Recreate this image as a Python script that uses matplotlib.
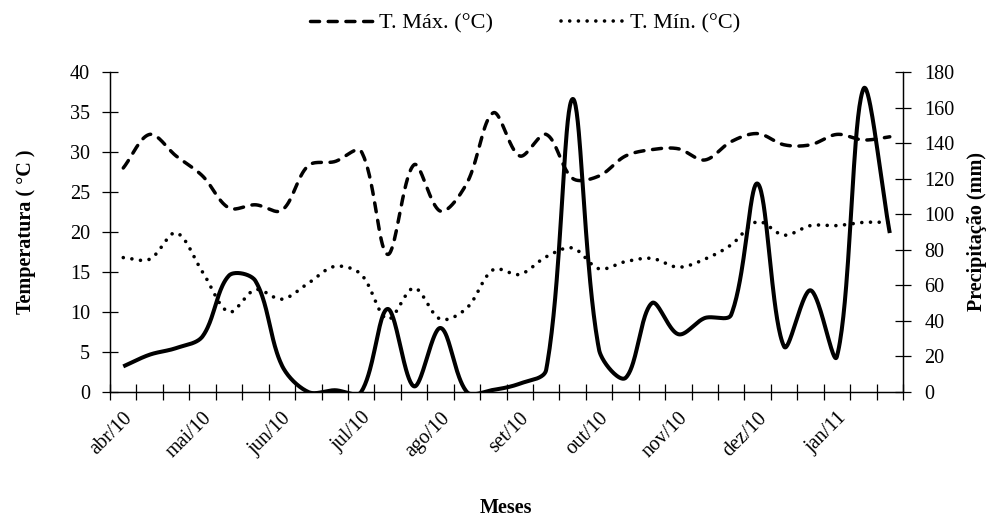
import matplotlib
matplotlib.use("Agg")
import matplotlib.pyplot as plt
import numpy as np

plt.rcParams['font.family'] = ['Liberation Serif', 'DejaVu Serif']

# decendial values, abr/10 .. jan/11 (3 per month)
t_max = [28.0, 32.2, 29.5, 27.0, 23.0, 23.4, 22.7, 28.3, 28.8, 30.1,
         17.2, 28.4, 22.6, 26.1, 34.9, 29.5, 32.2, 26.7, 27.0, 29.5,
         30.3, 30.4, 29.0, 31.3, 32.3, 30.9, 30.9, 32.2, 31.5, 31.9]
t_min = [16.8, 16.6, 19.9, 15.0, 10.0, 12.8, 11.6, 13.6, 15.7, 14.7,
         9.1, 13.0, 9.1, 10.5, 15.3, 14.7, 16.9, 18.0, 15.4, 16.3,
         16.7, 15.6, 16.6, 18.4, 21.3, 19.6, 20.8, 20.8, 21.2, 21.2]
precip = [14.4, 21.0, 24.7, 31.3, 65.5, 62.5, 15.0, 0.0, 1.0, 0.0,
          46.7, 3.2, 36.0, 0.0, 1.2, 4.7, 12.5, 164.8, 23.8, 7.9,
          50.0, 32.5, 41.6, 43.5, 117.2, 25.6, 57.2, 20.0, 170.4, 89.4]
month_labels = ['abr/10', 'mai/10', 'jun/10', 'jul/10', 'ago/10',
                'set/10', 'out/10', 'nov/10', 'dez/10', 'jan/11']


def smooth(y, px_y, px_x=26.4, n=40):
    # excel-like smoothed line: bezier, control points scaled by
    # neighbouring segment lengths (in screen units)
    P = np.column_stack([np.arange(len(y)) * px_x, np.asarray(y, float) * px_y])
    out = [P[:1]]
    t = np.linspace(0, 1, n)[1:, None]
    for i in range(len(P) - 1):
        a = P[i - 1] if i > 0 else P[i]
        b, c = P[i], P[i + 1]
        d = P[i + 2] if i + 2 < len(P) else P[i + 1]
        l_ab, l_bc, l_cd = [np.hypot(*v) + 1e-9 for v in (b - a, c - b, d - c)]
        c1 = b + (c - a) * l_bc / (l_ab + l_bc) / 3
        c2 = c - (d - b) * l_bc / (l_bc + l_cd) / 3
        seg = (1 - t)**3 * b + 3 * (1 - t)**2 * t * c1 + 3 * (1 - t) * t**2 * c2 + t**3 * c
        out.append(seg)
    P = np.vstack(out)
    return P[:, 0] / px_x, P[:, 1] / px_y


fig = plt.figure(figsize=(9.87, 5.19), dpi=100)
ax = fig.add_axes([0.1115, 0.2447, 0.8034, 0.6166])
ax2 = ax.twinx()

xs, ys = smooth(t_max, 8.0)
ax.plot(xs, ys, color='black', lw=2.5, linestyle=(0, (2.6, 2.5)),
        dash_capstyle='round', label='T. Máx. (°C)')
xs, ys = smooth(t_min, 8.0)
ax.plot(xs, ys, color='black', lw=2.6, linestyle=(0, (0.01, 2.4)),
        dash_capstyle='round', label='T. Mín. (°C)')
xs, ys = smooth(precip, 320 / 180)
ax2.plot(xs, ys, color='black', lw=2.9, solid_capstyle='butt')

n = len(t_max)
ax.set_xlim(-0.5, n - 0.5)
ax.set_ylim(0, 40)
ax2.set_ylim(0, 180)
ax.set_yticks(range(0, 41, 5))
ax2.set_yticks(range(0, 181, 20))
ax.set_xticks(np.arange(-0.5, n, 1.0))
ax.set_xticklabels([])
ax.set_xticks(np.arange(0, n, 3), minor=True)
ax.set_xticklabels(month_labels, minor=True, rotation=45, ha='right',
                   rotation_mode='anchor', fontsize=14.5)
ax.tick_params(axis='x', which='minor', length=0, pad=12)

for a in (ax, ax2):
    a.spines['top'].set_visible(False)
    for s in a.spines.values():
        s.set_linewidth(0.9)
ax.tick_params(axis='x', which='major', direction='inout', length=11, width=0.9)
ax.tick_params(axis='y', direction='inout', length=11, width=0.9, labelsize=14.5, pad=9)
ax2.tick_params(axis='y', direction='inout', length=11, width=0.9, labelsize=14.5, pad=10)

ax.set_ylabel('Temperatura ( °C )', fontsize=14.5, fontweight='bold', labelpad=24)
ax2.set_ylabel('Precipitação (mm)', fontsize=14.5, fontweight='bold', labelpad=9)
fig.text(0.513, 1 - 508 / 519, 'Meses', fontsize=14.5, fontweight='bold',
         ha='center', va='center')

fig.legend(loc='upper center', bbox_to_anchor=(0.532, 1.013), ncol=2, frameon=False,
           fontsize=16, handlelength=3.0, columnspacing=3.1, handletextpad=0.1)

plt.savefig('out.png', dpi=100)
plt.close()
